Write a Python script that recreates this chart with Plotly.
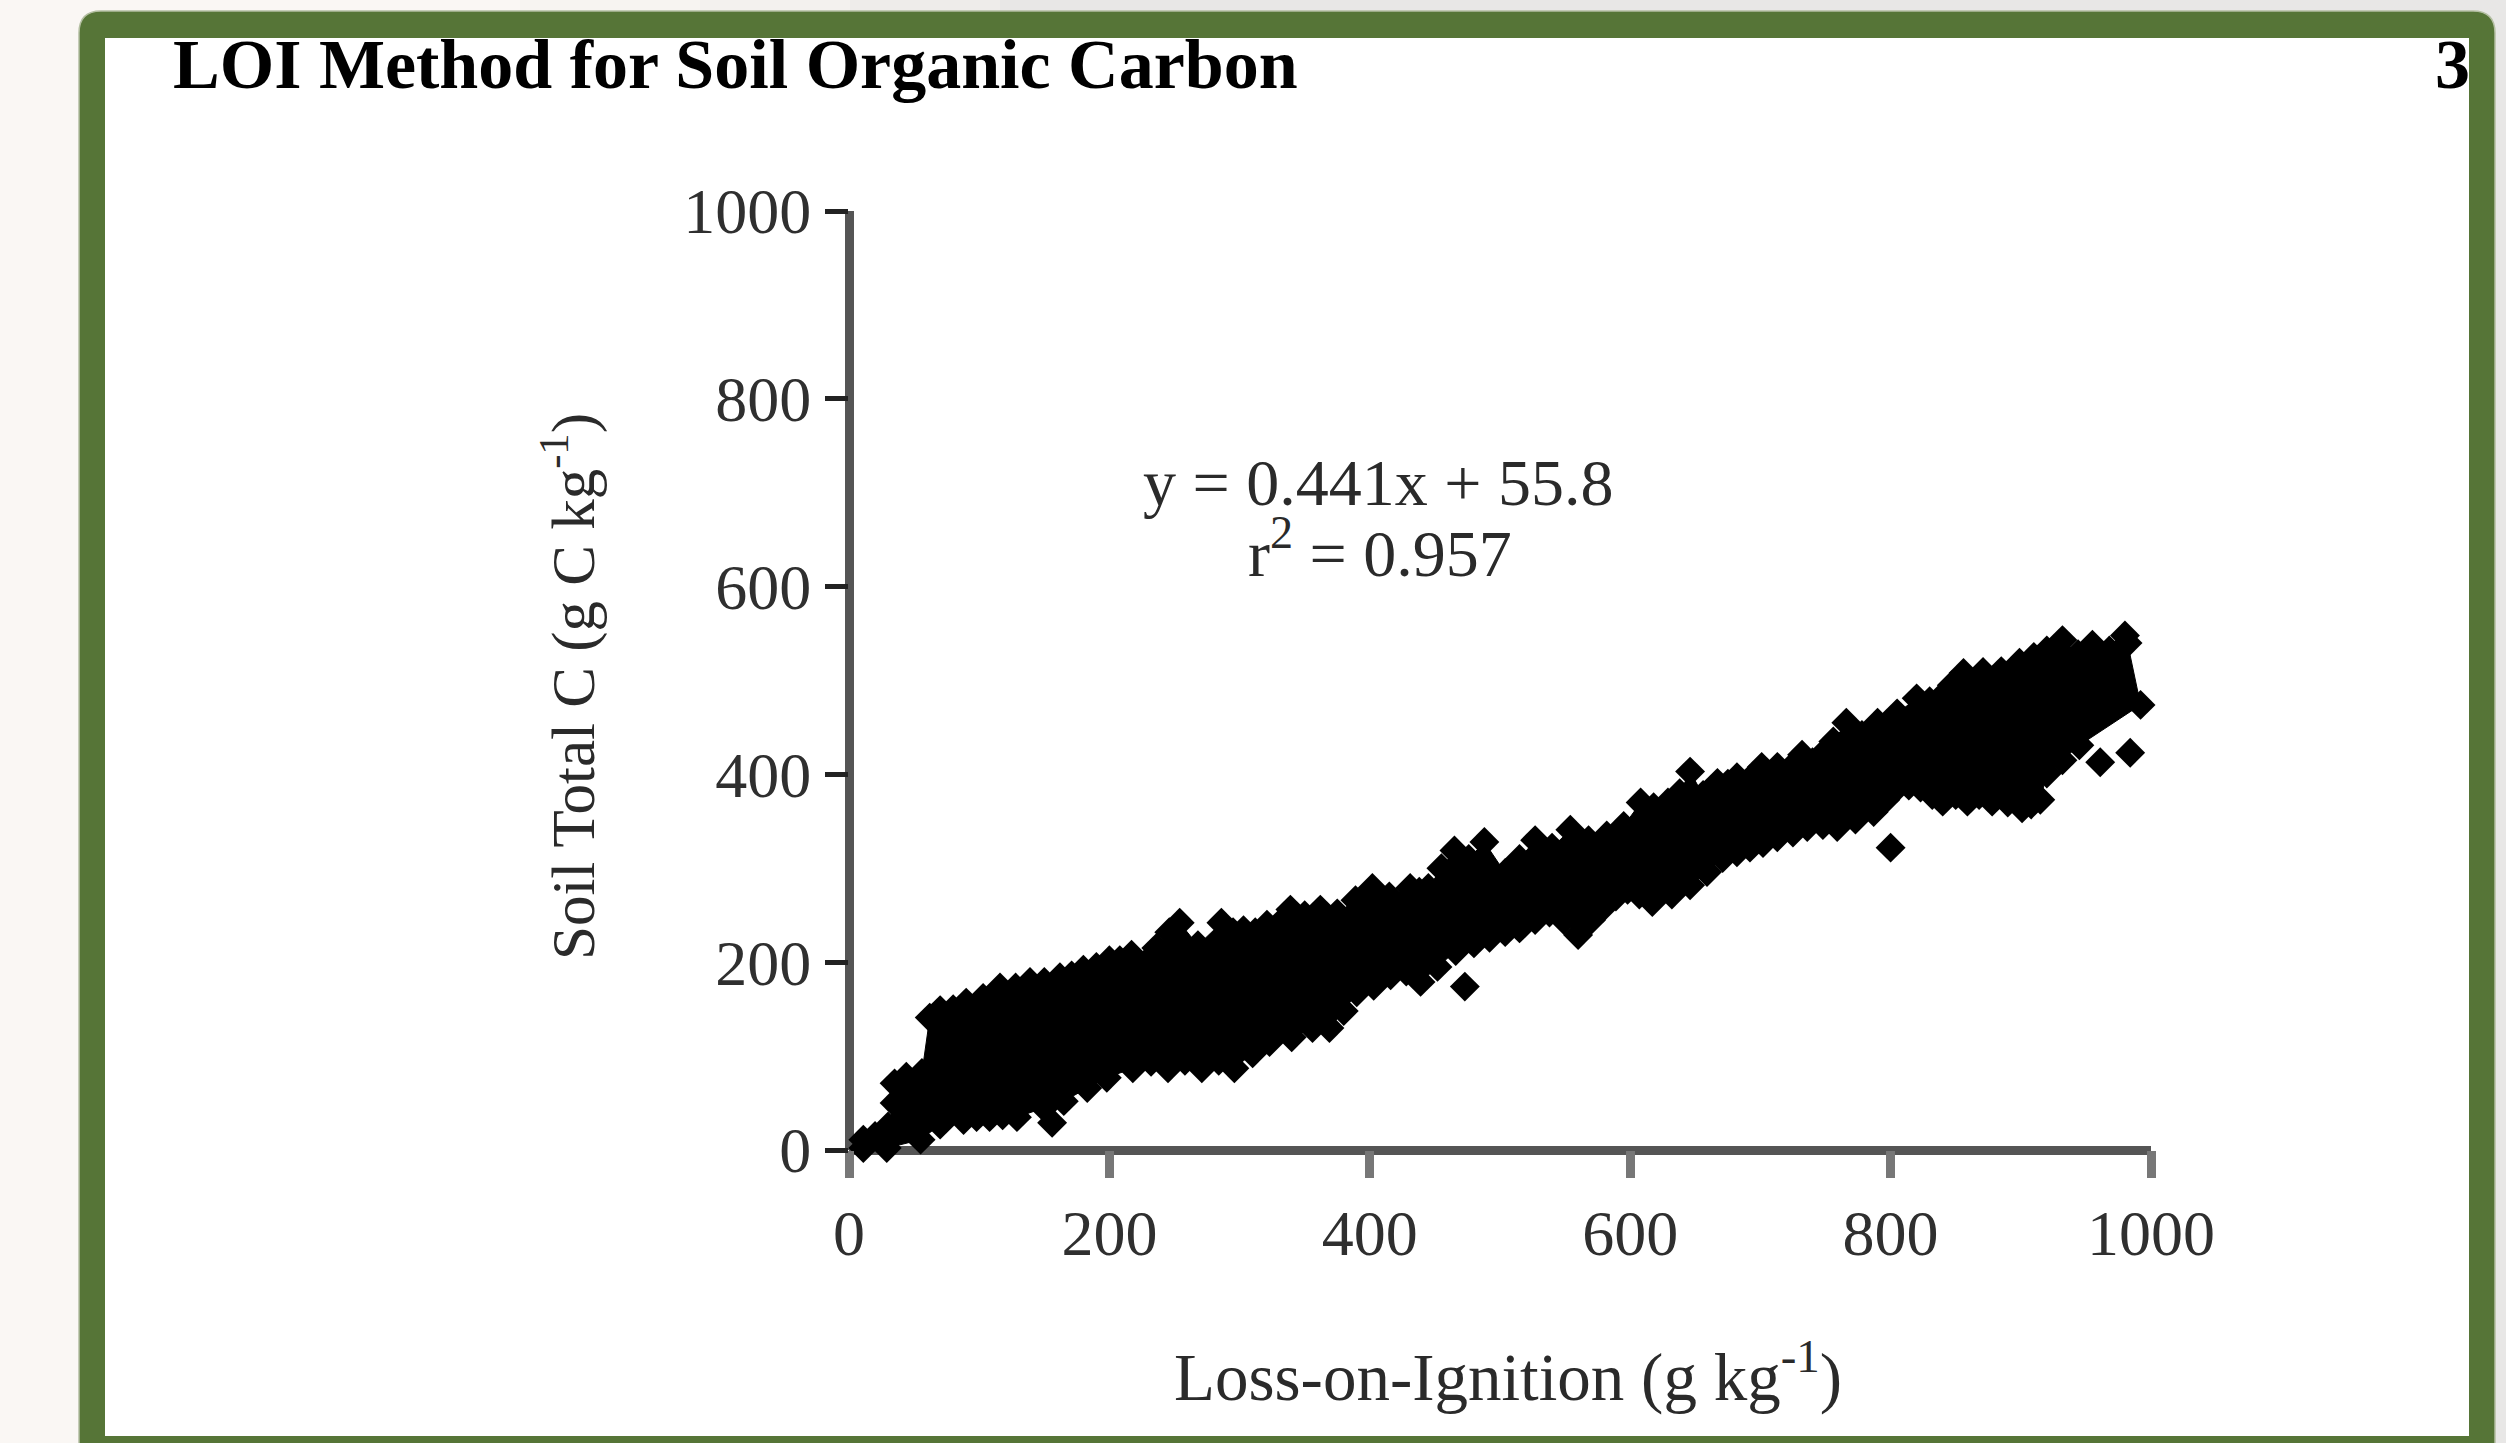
import plotly.graph_objects as go

# Values: loss-on-ignition (x) and soil total C (y)
upper_x = [11, 20, 30, 35, 35, 44, 56, 62, 70, 80, 90, 103, 116, 128, 139, 150, 162, 171, 180, 190, 200, 208, 217, 230,
           236, 246, 254, 268, 286, 295, 303, 312, 321, 330, 339, 350, 362, 375, 389, 396, 402, 415, 431, 438, 445,
           455, 465, 476, 488, 504, 515, 527, 540, 554, 568, 582, 595, 608, 618, 629, 638, 646, 656, 667, 675, 682,
           692, 701, 713, 722, 732, 740, 746, 756, 766, 778, 790, 805, 820, 830, 838, 847, 856, 871, 885, 899, 910,
           920, 932, 944, 955, 968, 980, 982, 992]
upper_y = [11, 15, 25, 50, 71, 78, 82, 141, 149, 150, 157, 162, 173, 173, 179, 179, 184, 186, 192, 195, 202, 202, 208, 202,
           215, 232, 242, 218, 242, 232, 234, 232, 240, 240, 256, 250, 256, 252, 266, 268, 279, 270, 279, 275, 279,
           300, 319, 310, 328, 295, 310, 330, 322, 341, 330, 335, 345, 370, 365, 370, 380, 403, 378, 391, 390, 397,
           395, 408, 408, 405, 421, 413, 419, 435, 455, 442, 455, 465, 481, 478, 481, 495, 508, 509, 510, 519, 525,
           532, 543, 528, 538, 532, 548, 540, 474]
lower_x = [11, 29, 55, 70, 88, 98, 108, 118, 129, 150, 165, 183, 198, 218, 232, 245, 258, 271, 284, 296, 310, 323, 340,
           356, 369, 380, 390, 403, 416, 428, 439, 452, 466, 480, 492, 504, 515, 527, 538, 549, 560, 570, 579, 589,
           598, 607, 617, 632, 646, 659, 671, 682, 692, 702, 713, 725, 736, 748, 759, 773, 787, 796, 805, 814, 823,
           832, 840, 850, 859, 868, 878, 890, 901, 908, 915, 920, 932, 945]
lower_y = [2, 2, 11, 27, 32, 35, 35, 37, 35, 45, 52, 66, 77, 87, 94, 87, 95, 87, 95, 87, 103, 115, 120,
           130, 130, 148, 168, 175, 186, 190, 179, 195, 212, 220, 226, 232, 236, 245, 253, 245, 229, 245, 258, 270,
           277, 272, 264, 272, 282, 296, 311, 317, 322, 327, 333, 338, 344, 346, 344, 352, 360, 373, 386, 388, 386,
           378, 371, 378, 371, 378, 371, 370, 364, 368, 373, 401, 415, 431]
outlier_x = [156, 473, 800, 961, 984]
outlier_y = [29, 174, 322, 413, 423]

x_ticks = [0, 200, 400, 600, 800, 1000]
y_ticks = [0, 200, 400, 600, 800, 1000]

title_text = "LOI Method for Soil Organic Carbon"
page_number = "3"
equation = "y = 0.441x + 55.8"
r_squared = "r<sup>2</sup> = 0.957"
x_label = "Loss-on-Ignition (g kg<sup>-1</sup>)"
y_label = "Soil Total C (g C kg<sup>-1</sup>)"

FONT = "Liberation Serif"
L, R, T, B = 849, 2151, 211, 1150


def px(v):
    return (v - L) / (R - L)


def py(v):
    return (B - v) / (B - T)


def rect(x0, y0, x1, y1, color):
    return dict(type="rect", xref="paper", yref="paper", x0=px(x0), x1=px(x1), y0=py(y0), y1=py(y1),
                fillcolor=color, line_width=0, layer="below")


frame_path = "M {} {} L {} {} Q {} {} {} {} L {} {} Q {} {} {} {} L {} {} L {} {} Z".format(
    px(79), py(1460), px(79), py(33), px(79), py(11), px(101), py(11),
    px(2473), py(11), px(2495), py(11), px(2495), py(33), px(2495), py(1460), px(79), py(1460))

shapes = [
    rect(520, 0, 700, 60, "#f7f4f1"),
    rect(700, 0, 850, 60, "#f3f1ee"),
    rect(850, 0, 1000, 60, "#eeecea"),
    rect(1000, 0, 2506, 1443, "#e8e7e6"),
    dict(type="path", xref="paper", yref="paper", path=frame_path, fillcolor="#567537",
         line=dict(color="#b4bfa2", width=1.5), layer="below"),
    rect(105, 38, 2469, 1436, "#ffffff"),
]

fig = go.Figure()
fig.add_trace(go.Scatter(
    x=upper_x + lower_x[::-1], y=upper_y + lower_y[::-1],
    mode="lines", fill="toself", fillcolor="#000000", line=dict(color="#000000", width=1),
    hoverinfo="skip", showlegend=False, cliponaxis=False))
for xs, ys in ((upper_x, upper_y), (lower_x, lower_y), (outlier_x, outlier_y)):
    fig.add_trace(go.Scatter(
        x=xs, y=ys, mode="markers",
        marker=dict(symbol="diamond", size=23, color="#000000", line_width=0),
        showlegend=False, cliponaxis=False))


def text(s, x, y, size, anchor="center", bold=False, angle=0, color="#2a2a2a"):
    return dict(text=f"<b>{s}</b>" if bold else s, xref="paper", yref="paper", x=px(x), y=py(y),
                xanchor=anchor, yanchor="middle", showarrow=False, textangle=angle,
                font=dict(family=FONT, size=size, color=color))


annotations = [
    text(title_text, 171, 65, 70, "left", True, color="#000000"),
    text(page_number, 2472, 65, 70, "right", True, color="#000000"),
    text(equation, 1378, 482, 66),
    text(r_squared, 1380, 548, 66),
    text(x_label, 1508, 1372, 67),
    text(y_label, 569, 687, 61, angle=-90),
]

fig.update_layout(
    width=2506, height=1443, autosize=False,
    margin=dict(l=L, r=2506 - R, t=T, b=1443 - B, pad=0),
    paper_bgcolor="#faf7f4", plot_bgcolor="rgba(0,0,0,0)",
    shapes=shapes, annotations=annotations, showlegend=False,
    xaxis=dict(range=[0, 1000], tickvals=x_ticks, ticks="outside", ticklen=27, tickwidth=9, tickcolor="#777777",
               showgrid=False, showline=False, zeroline=True, zerolinecolor="#555555", zerolinewidth=9,
               ticklabelstandoff=0, tickfont=dict(family=FONT, size=64, color="#2f2f2f")),
    yaxis=dict(range=[0, 1000], tickvals=y_ticks, ticks="outside", ticklen=23, tickwidth=5, tickcolor="#222222",
               showgrid=False, showline=False, zeroline=True, zerolinecolor="#555555", zerolinewidth=9,
               ticklabelstandoff=1, tickfont=dict(family=FONT, size=64, color="#2f2f2f")),
)

fig.write_html("out.html", config={"displayModeBar": False},
               post_script="document.body.style.margin='0';document.body.style.overflow='hidden';")
